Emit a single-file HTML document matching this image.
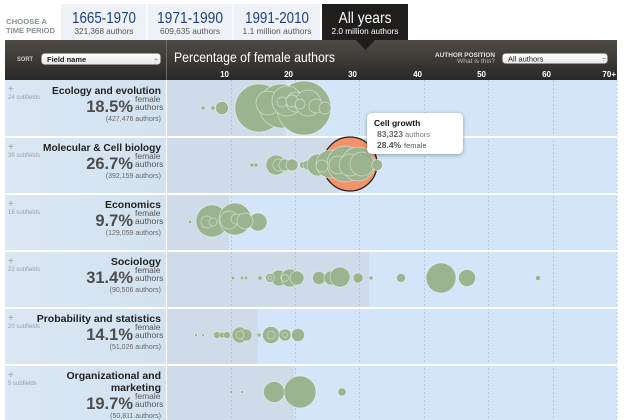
<!DOCTYPE html>
<html><head><meta charset="utf-8">
<style>
html,body{margin:0;padding:0;background:#fff;width:630px;height:420px;overflow:hidden;}
svg{display:block;font-family:"Liberation Sans",Arial,sans-serif;}
</style></head>
<body>
<svg width="630" height="420" viewBox="0 0 630 420" xmlns="http://www.w3.org/2000/svg">
<defs>
<linearGradient id="hdr" x1="0" y1="0" x2="0" y2="1">
<stop offset="0" stop-color="#4e4b47"/><stop offset="1" stop-color="#2a2826"/>
</linearGradient>
<linearGradient id="sel" x1="0" y1="0" x2="0" y2="1">
<stop offset="0" stop-color="#ffffff"/><stop offset="1" stop-color="#e6e6e6"/>
</linearGradient>
<linearGradient id="lp" x1="0" y1="0" x2="1" y2="0">
<stop offset="0" stop-color="#dbe7f3"/><stop offset="1" stop-color="#d3e2f0"/>
</linearGradient>
<filter id="sh" x="-20%" y="-20%" width="140%" height="150%">
<feGaussianBlur in="SourceAlpha" stdDeviation="2"/><feOffset dx="0" dy="1"/>
<feComponentTransfer><feFuncA type="linear" slope="0.35"/></feComponentTransfer>
<feMerge><feMergeNode/><feMergeNode in="SourceGraphic"/></feMerge>
</filter>
</defs>

<!-- Tabs -->
<text x="6" y="24" font-size="7.5" font-weight="bold" fill="#8c9299" textLength="41" lengthAdjust="spacingAndGlyphs">CHOOSE A</text>
<text x="6" y="33" font-size="7.5" font-weight="bold" fill="#8c9299" textLength="49" lengthAdjust="spacingAndGlyphs">TIME PERIOD</text>
<rect x="61" y="4" width="259" height="36" fill="#eef2f6"/>
<line x1="147" y1="4" x2="147" y2="40" stroke="#fff" stroke-width="1"/>
<line x1="233" y1="4" x2="233" y2="40" stroke="#fff" stroke-width="1"/>
<rect x="322" y="4" width="86" height="36" fill="#1f1e1d"/>

<text x="104" y="23" font-size="16" fill="#1d3f7c" text-anchor="middle" textLength="64" lengthAdjust="spacingAndGlyphs">1665-1970</text>
<text x="104" y="34" font-size="8.5" fill="#555" text-anchor="middle" textLength="59" lengthAdjust="spacingAndGlyphs">321,368 authors</text>
<text x="190" y="23" font-size="16" fill="#1d3f7c" text-anchor="middle" textLength="66" lengthAdjust="spacingAndGlyphs">1971-1990</text>
<text x="190" y="34" font-size="8.5" fill="#555" text-anchor="middle" textLength="60" lengthAdjust="spacingAndGlyphs">609,635 authors</text>
<text x="277" y="23" font-size="16" fill="#1d3f7c" text-anchor="middle" textLength="64" lengthAdjust="spacingAndGlyphs">1991-2010</text>
<text x="277" y="34" font-size="8.5" fill="#555" text-anchor="middle" textLength="69" lengthAdjust="spacingAndGlyphs">1.1 million authors</text>
<text x="365" y="23" font-size="16" fill="#fff" text-anchor="middle" textLength="53" lengthAdjust="spacingAndGlyphs">All years</text>
<text x="365" y="34" font-size="8.5" fill="#fff" text-anchor="middle" textLength="67" lengthAdjust="spacingAndGlyphs">2.0 million authors</text>

<!-- Header bar -->
<rect x="5" y="40" width="612" height="40" fill="url(#hdr)"/>
<polygon points="356,40 375,40 365.5,50" fill="#1f1e1d"/>
<line x1="166.5" y1="40" x2="166.5" y2="80" stroke="#6c6864" stroke-width="1"/>
<text x="17" y="61" font-size="6.5" font-weight="bold" fill="#d0d0d0" textLength="16" lengthAdjust="spacingAndGlyphs">SORT</text>
<rect x="41.5" y="53.5" width="119" height="11" rx="3" fill="url(#sel)" stroke="#999" stroke-width="0.5"/>
<text x="47" y="62" font-size="7.5" font-weight="bold" fill="#222">Field name</text>
<text x="154" y="62" font-size="7" fill="#666">÷</text>
<text x="174" y="62" font-size="14" fill="#fff" textLength="161" lengthAdjust="spacingAndGlyphs">Percentage of female authors</text>
<text x="495" y="57" font-size="6.5" font-weight="bold" fill="#e0e0e0" text-anchor="end" textLength="60" lengthAdjust="spacingAndGlyphs">AUTHOR POSITION</text>
<text x="495" y="63" font-size="6" fill="#bdbdbd" text-anchor="end" textLength="38" lengthAdjust="spacingAndGlyphs">What is this?</text>
<rect x="502.5" y="53.5" width="105" height="10" rx="3" fill="url(#sel)" stroke="#999" stroke-width="0.5"/>
<text x="508" y="61.5" font-size="7.5" fill="#222">All authors</text>
<text x="602" y="61.5" font-size="7" fill="#666">÷</text>

<g font-size="8" font-weight="bold" fill="#fff" text-anchor="end">
<text x="229" y="77">10</text>
<text x="293" y="77">20</text>
<text x="357" y="77">30</text>
<text x="422" y="77">40</text>
<text x="486" y="77">50</text>
<text x="551" y="77">60</text>
<text x="616" y="77">70+</text>
</g>

<!-- Body backgrounds -->
<rect x="5" y="80" width="161" height="340" fill="url(#lp)"/>
<rect x="167" y="80" width="450" height="340" fill="#d3e5f8"/>
<rect x="167" y="80" width="119" height="56" fill="#cfdbe8"/>
<rect x="167" y="138" width="172" height="55" fill="#cfdbe8"/>
<rect x="167" y="195" width="62" height="55" fill="#cfdbe8"/>
<rect x="167" y="252" width="202" height="55" fill="#cfdbe8"/>
<rect x="167" y="309" width="91" height="55" fill="#cfdbe8"/>
<rect x="167" y="366" width="127" height="54" fill="#cfdbe8"/>

<!-- gridlines -->
<g stroke="#b3c0cf" stroke-width="0.8" stroke-dasharray="2,2">
<line x1="231.5" y1="80" x2="231.5" y2="420"/>
<line x1="295.5" y1="80" x2="295.5" y2="420"/>
<line x1="359.5" y1="80" x2="359.5" y2="420"/>
<line x1="424.5" y1="80" x2="424.5" y2="420"/>
<line x1="488.5" y1="80" x2="488.5" y2="420"/>
<line x1="553.5" y1="80" x2="553.5" y2="420"/>
<line x1="617" y1="80" x2="617" y2="420"/>
</g>

<!-- separators -->
<g fill="#fff">
<rect x="5" y="136" width="612" height="2"/>
<rect x="5" y="193" width="612" height="2"/>
<rect x="5" y="250" width="612" height="2"/>
<rect x="5" y="307" width="612" height="2"/>
<rect x="5" y="364" width="612" height="2"/>
<rect x="166" y="80" width="1" height="340"/>
</g>

<!-- Left panel texts -->
<g fill="#9aa0a8">
<text x="8" y="92" font-size="10">+</text>
<text x="8" y="150" font-size="10">+</text>
<text x="8" y="207" font-size="10">+</text>
<text x="8" y="264" font-size="10">+</text>
<text x="8" y="321" font-size="10">+</text>
<text x="8" y="378" font-size="10">+</text>
<g font-size="6">
<text x="8" y="99">24 subfields</text>
<text x="8" y="157">39 subfields</text>
<text x="8" y="214">16 subfields</text>
<text x="8" y="271">22 subfields</text>
<text x="8" y="328">20 subfields</text>
<text x="8" y="385">5 subfields</text>
</g>
</g>

<g font-weight="bold" font-size="10.5" fill="#222" text-anchor="end">
<text x="161" y="94" textLength="109" lengthAdjust="spacingAndGlyphs">Ecology and evolution</text>
<text x="161" y="151" textLength="118" lengthAdjust="spacingAndGlyphs">Molecular &amp; Cell biology</text>
<text x="161" y="208">Economics</text>
<text x="161" y="265">Sociology</text>
<text x="161" y="322">Probability and statistics</text>
<text x="161" y="379">Organizational and</text>
<text x="161" y="391">marketing</text>
</g>

<g font-weight="bold" font-size="16.5" fill="#4d4d4d" text-anchor="end">
<text x="133" y="112">18.5%</text>
<text x="133" y="169">26.7%</text>
<text x="133" y="226">9.7%</text>
<text x="133" y="283">31.4%</text>
<text x="133" y="340">14.1%</text>
<text x="133" y="409">19.7%</text>
</g>
<g font-size="8.5" fill="#555">
<text x="135" y="102">female</text><text x="135" y="110">authors</text>
<text x="135" y="159">female</text><text x="135" y="167">authors</text>
<text x="135" y="216">female</text><text x="135" y="224">authors</text>
<text x="135" y="273">female</text><text x="135" y="281">authors</text>
<text x="135" y="330">female</text><text x="135" y="338">authors</text>
<text x="135" y="399">female</text><text x="135" y="407">authors</text>
</g>
<g font-size="7" fill="#666" text-anchor="end">
<text x="161" y="121">(427,476 authors)</text>
<text x="161" y="178">(392,159 authors)</text>
<text x="161" y="235">(129,059 authors)</text>
<text x="161" y="292">(90,506 authors)</text>
<text x="161" y="349">(51,026 authors)</text>
<text x="161" y="418">(50,811 authors)</text>
</g>

<!-- Bubbles -->
<g fill="#9bb38e" stroke="#ffffff" stroke-opacity="0.55" stroke-width="0.7">
<circle cx="203" cy="108" r="2"/>
<circle cx="213" cy="108" r="2.2"/>
<circle cx="222" cy="108" r="6.5"/>
<circle cx="259" cy="108" r="24"/>
<circle cx="281" cy="106" r="22"/>
<circle cx="304" cy="108" r="27"/>
<circle cx="268" cy="103" r="12"/>
<circle cx="287" cy="101" r="15"/>
<circle cx="296" cy="102" r="10"/>
<circle cx="308" cy="103" r="13"/>
<circle cx="282" cy="102" r="5"/>
<circle cx="292" cy="101" r="6"/>
<circle cx="316" cy="106" r="7"/>
<circle cx="325" cy="108" r="6"/>
<circle cx="300" cy="104" r="5"/>
<circle cx="252" cy="165" r="2"/>
<circle cx="256" cy="165" r="2"/>
<circle cx="276" cy="165" r="10"/>
<circle cx="279" cy="165" r="6"/>
<circle cx="285" cy="165" r="6"/>
<circle cx="292" cy="165" r="6"/>
<circle cx="303" cy="165" r="3.5"/>
<circle cx="308" cy="165" r="5"/>
</g>
<circle cx="350" cy="164" r="27" fill="#f2916a" stroke="#222" stroke-width="1.3"/>
<g fill="#9bb38e" stroke="#ffffff" stroke-opacity="0.55" stroke-width="0.7">
<circle cx="318" cy="165" r="11"/>
<circle cx="330" cy="164" r="14"/>
<circle cx="345" cy="164" r="18"/>
<circle cx="358" cy="164" r="17"/>
<circle cx="338" cy="165" r="9"/>
<circle cx="350" cy="165" r="11"/>
<circle cx="362" cy="164" r="12"/>
<circle cx="322" cy="166" r="6"/>
<circle cx="377" cy="165" r="5.5"/>
<circle cx="190" cy="222" r="1.7"/>
<circle cx="212" cy="221" r="16"/>
<circle cx="235" cy="219" r="16"/>
<circle cx="258" cy="222" r="9"/>
<circle cx="207" cy="222" r="6"/>
<circle cx="213" cy="222" r="4"/>
<circle cx="229" cy="220" r="9"/>
<circle cx="236" cy="219" r="5"/>
<circle cx="245" cy="221" r="8"/>
<circle cx="233" cy="278" r="1.8"/>
<circle cx="242" cy="278" r="1.8"/>
<circle cx="246" cy="278" r="1.8"/>
<circle cx="260" cy="278" r="2.2"/>
<circle cx="279" cy="278" r="8"/>
<circle cx="270" cy="278" r="4.5"/>
<circle cx="270" cy="278" r="2"/>
<circle cx="290" cy="278" r="9"/>
<circle cx="297" cy="278" r="7"/>
<circle cx="285" cy="278" r="3.5"/>
<circle cx="319" cy="278" r="6.5"/>
<circle cx="331" cy="278" r="7"/>
<circle cx="340" cy="277" r="10"/>
<circle cx="358" cy="278" r="5"/>
<circle cx="371" cy="278" r="2"/>
<circle cx="401" cy="278" r="4.5"/>
<circle cx="441" cy="278" r="15"/>
<circle cx="467" cy="278" r="8.5"/>
<circle cx="538" cy="278" r="2.5"/>
<circle cx="196" cy="335" r="1.5"/>
<circle cx="203" cy="335" r="1.5"/>
<circle cx="217" cy="335" r="3.5"/>
<circle cx="222" cy="335" r="3"/>
<circle cx="227" cy="335" r="3.5"/>
<circle cx="240" cy="335" r="8"/>
<circle cx="246" cy="335" r="6"/>
<circle cx="240" cy="335" r="4"/>
<circle cx="259" cy="335" r="2"/>
<circle cx="271" cy="335" r="8.5"/>
<circle cx="271" cy="335" r="4"/>
<circle cx="285" cy="335" r="6"/>
<circle cx="285" cy="335" r="2.5"/>
<circle cx="298" cy="335" r="6.5"/>
<circle cx="231" cy="392" r="1.5"/>
<circle cx="242" cy="392" r="1.5"/>
<circle cx="274" cy="392" r="10.5"/>
<circle cx="300" cy="392" r="16"/>
<circle cx="342" cy="392" r="4"/>
</g>

<!-- tooltip -->
<g filter="url(#sh)">
<rect x="367" y="113" width="96" height="41" rx="5" fill="#fff"/>
</g>
<text x="374" y="126" font-size="8.5" font-weight="bold" fill="#111">Cell growth</text>
<text x="377" y="137" font-size="8.5" font-weight="bold" fill="#666">83,323</text>
<text x="405" y="137" font-size="7.5" fill="#777">authors</text>
<text x="377" y="148" font-size="8.5" font-weight="bold" fill="#555">28.4%</text>
<text x="404" y="148" font-size="7.5" fill="#555">female</text>
</svg>
</body></html>
